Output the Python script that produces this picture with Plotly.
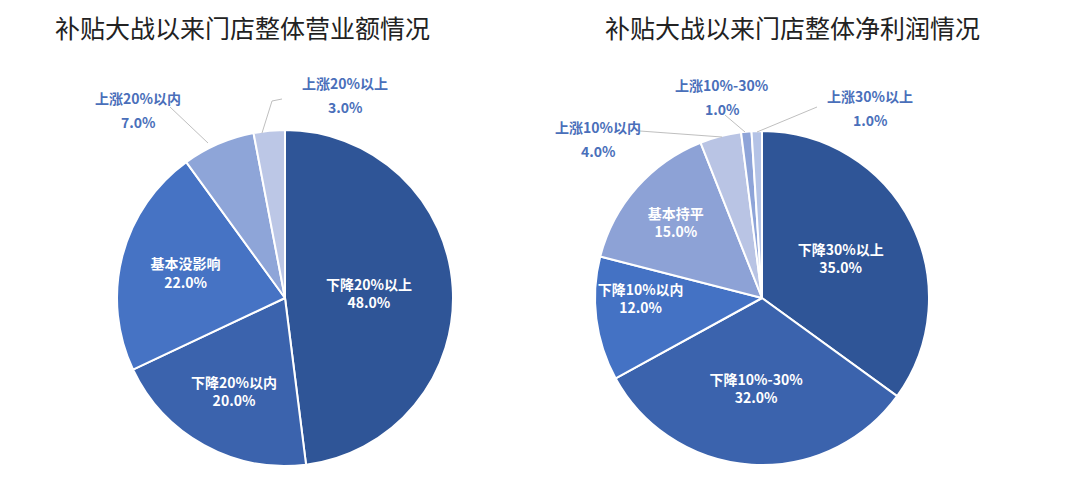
import plotly.graph_objects as go

# 营业额
revenue_labels = ["下降20%以上", "下降20%以内", "基本没影响", "上涨20%以内", "上涨20%以上"]
revenue_values = [48, 20, 22, 7, 3]
revenue_colors = ["#2f5597", "#3b63ad", "#4673c4", "#8ea5d8", "#bcc7e6"]

# 净利润
profit_labels = ["下降30%以上", "下降10%-30%", "下降10%以内", "基本持平", "上涨10%以内", "上涨10%-30%", "上涨30%以上"]
profit_values = [35, 32, 12, 15, 4, 1, 1]
profit_colors = ["#2f5597", "#3b63ad", "#4472c4", "#8da2d6", "#b9c4e4", "#8ea4d8", "#b4c3e6"]

titles = ["补贴大战以来门店整体营业额情况", "补贴大战以来门店整体净利润情况"]

# page body has an 8px margin, so the figure is a bit smaller than the window
PAD = 8
W, H = 1080 - 2 * PAD, 498 - 2 * PAD
FONT = "Noto Sans CJK SC"


def px(x, y):
    # reference pixel -> paper coords
    return (x - PAD) / W, 1 - (y - PAD) / H


fig = go.Figure()


def add_pie(labels, values, colors, n_inside, cx, cy, r):
    positions = ["inside"] * n_inside + ["none"] * (len(values) - n_inside)
    x0, y1 = px(cx - r, cy - r)
    x1, y0 = px(cx + r, cy + r)
    fig.add_trace(go.Pie(
        labels=labels, values=values, sort=False, direction="clockwise", rotation=0,
        marker=dict(colors=colors, line=dict(color="white", width=2)),
        texttemplate="<b>%{label}</b><br><b>%{percent:.1%}</b>",
        textposition=positions, insidetextorientation="horizontal",
        insidetextfont=dict(family=FONT, size=14, color="white"),
        hoverinfo="label+percent", showlegend=False,
        domain=dict(x=[x0, x1], y=[y0, y1]),
    ))


add_pie(revenue_labels, revenue_values, revenue_colors, 3, 285, 298, 168)
add_pie(profit_labels, profit_values, profit_colors, 4, 762, 298, 167)

# 外部标签位置 (参考图像素) 及引线
outside = [
    (revenue_labels[3], revenue_values[3], (138, 110), [(170, 107), (208, 143)]),
    (revenue_labels[4], revenue_values[4], (345, 95), [(282, 99), (272, 101), (262, 133)]),
    (profit_labels[4], profit_values[4], (598, 139), [(640, 131), (722, 137)]),
    (profit_labels[5], profit_values[5], (722, 97), [(725, 115), (745, 132)]),
    (profit_labels[6], profit_values[6], (870, 108), [(817, 107), (757, 132)]),
]

for lab, val, (tx, ty), pts in outside:
    for txt, yy in [(lab, ty - 12), ("%.1f%%" % val, ty + 12)]:
        x, y = px(tx, yy)
        fig.add_annotation(
            x=x, y=y, xref="paper", yref="paper", xanchor="center", yanchor="middle",
            showarrow=False, text="<b>%s</b>" % txt,
            font=dict(family=FONT, size=14, color="#4a6fba"),
        )
    for (x0, y0), (x1, y1) in zip(pts[:-1], pts[1:]):
        a0, b0 = px(x0, y0)
        a1, b1 = px(x1, y1)
        fig.add_shape(type="line", xref="paper", yref="paper", x0=a0, y0=b0, x1=a1, y1=b1,
                      line=dict(color="#bfbfbf", width=1))

for t, cx in zip(titles, [242, 792]):
    x, y = px(cx, 27)
    fig.add_annotation(x=x, y=y, xref="paper", yref="paper", xanchor="center", yanchor="middle",
                       showarrow=False, text=t,
                       font=dict(family=FONT, size=25, color="#222222"))

fig.update_layout(width=W, height=H, margin=dict(l=0, r=0, t=0, b=0),
                  paper_bgcolor="white", plot_bgcolor="white")

fig.write_html("out.html")
